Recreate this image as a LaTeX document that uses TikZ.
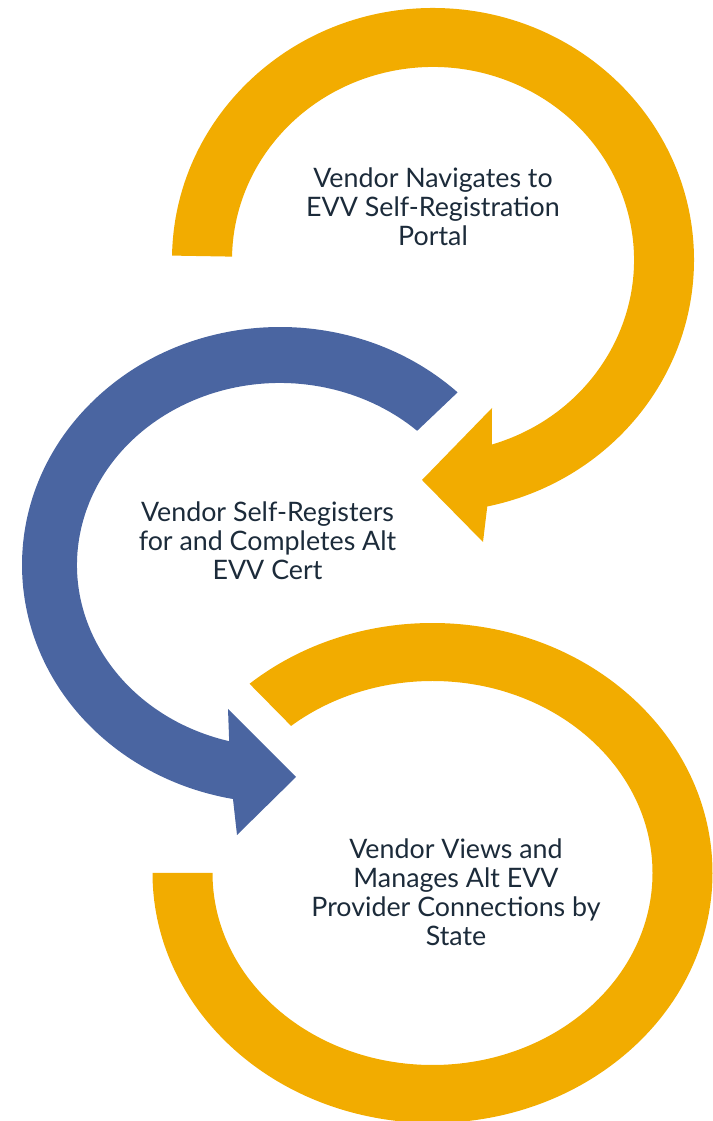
\documentclass[tikz,border=0pt]{standalone}
\usepackage{fontspec}
\setmainfont{Lato}
\usetikzlibrary{calc}
\definecolor{ringgold}{HTML}{F2AC00}
\definecolor{ringblue}{HTML}{4A65A1}
\definecolor{steptext}{HTML}{1C2B3A}

\begin{document}
\begin{tikzpicture}[x=1pt,y=1pt,
    steplabel/.style={align=center,text=steptext,font=\fontsize{26.8}{29}\selectfont}]

\useasboundingbox (0,0) rectangle (712,1121);
% \draw[step=50,gray,very thin] (0,0) grid (712,1121);

\coordinate (ctrA) at (433,861);
\coordinate (ctrB) at (280,556);
\coordinate (ctrC) at (432.5,248);

% top arrow
\fill[ringgold] ($(ctrA)+(179:261 and 252)$) arc[start angle=179,end angle=-78,x radius=261,y radius=252]
    -- (483,579) -- (422,641) -- (492,713)
    -- ($(ctrA)+(-73:201 and 193)$) arc[start angle=-73,end angle=179,x radius=201,y radius=193] -- cycle;

% middle arrow
\fill[ringblue] ($(ctrB)+(46.5:258 and 238)$) arc[start angle=46.5,end angle=259.5,x radius=258,y radius=238]
    -- (237,286) -- (296,344) -- (228,412)
    -- ($(ctrB)+(255.5:203 and 182)$) arc[start angle=255.5,end angle=47.5,x radius=203,y radius=182] -- cycle;

% bottom arrow
\fill[ringgold] ($(ctrC)+(130.8:280 and 250)$) arc[start angle=130.8,end angle=-180,x radius=280,y radius=250]
    -- ($(ctrC)+(180:220 and 192)$) arc[start angle=-180,end angle=130,x radius=220,y radius=192] -- cycle;

\node[steplabel] (navigate) at (433,914) {Vendor Navigates to\\EVV Self-Registration\\Portal};
\node[steplabel] (register) at (267.5,580) {Vendor Self-Registers\\for and Completes Alt\\EVV Cert};
\node[steplabel] (manage) at (456,229) {Vendor Views and\\Manages Alt EVV\\Provider Connections by\\State};

\end{tikzpicture}
\end{document}
